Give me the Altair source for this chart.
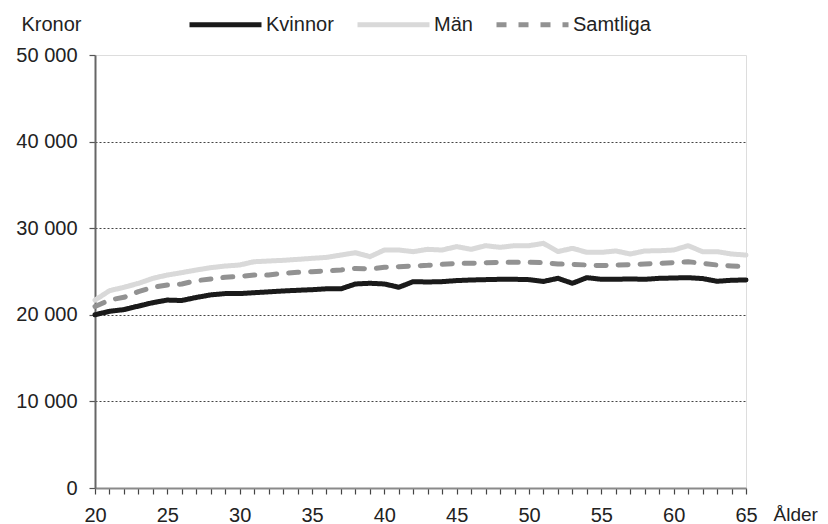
import altair as alt
import pandas as pd

ages = list(range(20, 66))
kvinnor = [20000, 20400, 20600, 21000, 21400, 21700, 21650, 22000, 22300, 22450,
           22450, 22550, 22650, 22750, 22830, 22900, 23000, 23000, 23560, 23640,
           23560, 23180, 23830, 23790, 23830, 23950, 24020, 24060, 24100, 24100,
           24060, 23850, 24210, 23640, 24290, 24100, 24100, 24140, 24100, 24210,
           24250, 24290, 24180, 23870, 23990, 24020]
man = [21700, 22780, 23170, 23630, 24210, 24590, 24870, 25170, 25440, 25630,
       25750, 26130, 26210, 26290, 26400, 26520, 26630, 26900, 27170, 26710,
       27480, 27480, 27290, 27560, 27480, 27870, 27560, 27980, 27790, 27980,
       27980, 28250, 27300, 27670, 27210, 27210, 27370, 27020, 27370, 27400,
       27480, 27980, 27290, 27290, 27020, 26900]
samtliga = [20950, 21710, 22020, 22670, 23170, 23440, 23560, 23940, 24130, 24330,
            24440, 24590, 24590, 24790, 24900, 24980, 25060, 25170, 25360, 25290,
            25480, 25560, 25640, 25710, 25830, 25940, 25940, 26020, 26060, 26060,
            26060, 26020, 25870, 25830, 25750, 25680, 25750, 25790, 25870, 25940,
            26020, 26130, 25940, 25750, 25640, 25560]
series = ["Kvinnor", "Män", "Samtliga"]
y_ticks = [0, 10000, 20000, 30000, 40000, 50000]

rows = []
for name, vals in zip(series, [kvinnor, man, samtliga]):
    for a, v in zip(ages, vals):
        rows.append({"Ålder": a, "Kronor": v, "Serie": name})
df = pd.DataFrame(rows)

FONT = "Liberation Sans"
TXT = "#222222"
FS = 20

chart = alt.Chart(df).mark_line(strokeWidth=5, strokeCap="round", strokeJoin="round").encode(
    x=alt.X("Ålder:Q",
            scale=alt.Scale(domain=[20, 65], nice=False, zero=False),
            axis=alt.Axis(values=ages, grid=False, ticks=True, labelFlush=False,
                          labelOverlap=False,
                          labelExpr="datum.value % 5 == 0 ? datum.value : ''",
                          domainColor="#8a8a8a", domainWidth=2,
                          tickColor="#444444", tickSize=6, tickWidth=1.2,
                          labelPadding=11, labelFontSize=FS, labelColor=TXT,
                          labelFont=FONT,
                          title="Ålder", titleFontSize=19, titleFontWeight="normal",
                          titleFont=FONT, titleColor=TXT,
                          titleAlign="left", titleBaseline="alphabetic",
                          titleX=678, titleY=32)),
    y=alt.Y("Kronor:Q",
            scale=alt.Scale(domain=[0, 50000], nice=False),
            axis=alt.Axis(values=y_ticks,
                          labelExpr="replace(format(datum.value, ','), ',', ' ')",
                          grid=True, gridDash=[2, 2], gridColor="#444444", gridWidth=1,
                          gridOpacity={"condition": {"test": "datum.value == 50000 || datum.value == 0",
                                                     "value": 0}, "value": 1},
                          domainColor="#666666", domainWidth=2,
                          tickColor="#555555", tickSize=6, tickWidth=1.2,
                          labelPadding=12, labelFontSize=FS, labelColor=TXT,
                          labelFont=FONT,
                          title="Kronor", titleAngle=0, titleFontSize=FS,
                          titleFontWeight="normal", titleFont=FONT, titleColor=TXT,
                          titleAlign="left", titleBaseline="alphabetic",
                          titleX=-74, titleY=-25)),
    color=alt.Color("Serie:N",
                    scale=alt.Scale(domain=series, range=["#1a1a1a", "#d9d9d9", "#929292"]),
                    legend=alt.Legend(orient="none", legendX=92, legendY=-69,
                                      direction="horizontal", title=None,
                                      symbolType="stroke", symbolSize=5184,
                                      symbolStrokeWidth=5, labelFontSize=FS,
                                      labelFont=FONT, labelColor=TXT,
                                      labelOffset=2, columnPadding=13)),
    strokeDash=alt.StrokeDash("Serie:N",
                              scale=alt.Scale(domain=series, range=[[1, 0], [1, 0], [10, 12]]),
                              legend=None),
).properties(
    width=651, height=433,
    padding={"left": 87, "top": 47, "right": 74, "bottom": 36},
    autosize=alt.AutoSizeParams(type="none"),
).configure_view(
    stroke="#999999", strokeWidth=2
).configure(background="white")

chart.save("out.html", embed_options={"renderer": "svg", "actions": False})
